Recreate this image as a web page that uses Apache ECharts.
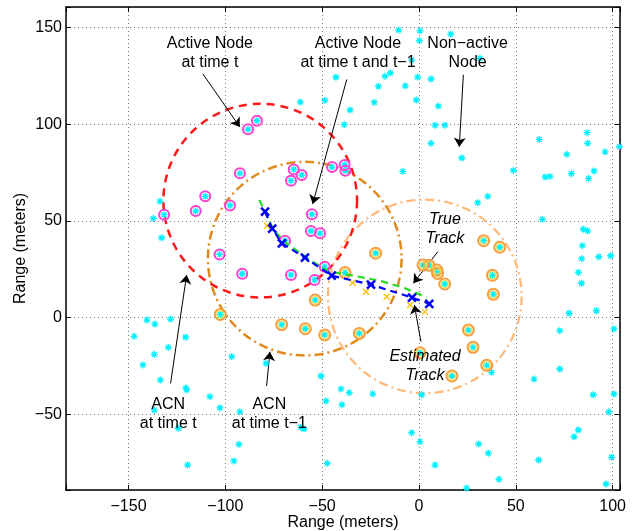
<!DOCTYPE html>
<html>
<head>
<meta charset="utf-8">
<script src="https://cdn.jsdelivr.net/npm/echarts@6/dist/echarts.min.js"></script>
<style>
  html, body { margin: 0; padding: 0; background: #fff; }
  #main { width: 642px; height: 531px; }
</style>
</head>
<body>
<div id="main"></div>
<script>
// tick labels
var xTicks = [-150, -100, -50, 0, 50, 100];
var yTicks = [-50, 0, 50, 100, 150];

// non-active nodes (cyan asterisks only)
var otherNodes = [
    [-61.3, 111.4], [-133.8, 60.1], [-137.2, 51.3], [-132.9, 41.3],
    [-10.5, 148.6], [0.5, 148.2], [0.2, 143.1], [16.4, 146.5], [31.5, 134], [-3.8, 133.1],
    [-42.9, 124.2], [-17.6, 124.7], [-14.8, 126.4], [-0.7, 124.3], [6.2, 123.3], [-21, 119.5],
    [-7.1, 119.8], [-48.6, 112.3], [-23.1, 111.2], [-1.4, 112.4], [-35.6, 107.3], [10, 109.3],
    [-38.6, 99.7], [8.3, 99.4], [13.4, 99.4], [6.2, 90.1], [22.1, 82.5], [-8.4, 75.6], [48.7, 76.1],
    [62.1, 92.1], [86.8, 95.6], [87.1, 90.1], [76.3, 84.4], [96.1, 85.7], [103.5, 88.3],
    [65.2, 72.7], [67.7, 73], [78.7, 74.4], [90.4, 75.8], [87.6, 72], [30.3, 59.4], [35.5, 62.7],
    [63.7, 50.8], [84.9, 45.7], [87.1, 44.9], [84.4, 37.2], [84, 30.5], [92.8, 31.5], [99, 32],
    [82.3, 23.4], [83.9, 17.8], [77.5, 2.3], [91.6, 3.6], [72.7, -6.7], [100.7, -5.8],
    [72.7, -26.5], [59.4, -31.7], [90, -39.8], [100.7, -39.4], [98, -48.6], [37.5, -28.2],
    [1.4, -39.8], [-40.3, -36.8], [-36, -38.7], [-23.9, -39.3], [-48, -43], [-39.8, -44.9],
    [-50.6, -30.1], [-3.8, -59.4], [0.5, -64], [30.8, -65.2], [35.8, -70], [8.3, -76.1],
    [41.3, -83.5], [24.6, -88], [-47.4, -75.2], [61.8, -73.5], [82.3, -58], [80.1, -61.5],
    [99.5, -72.1], [96.6, -85.9],
    [-140.5, -1.2], [-136.4, -3.3], [-128.3, -0.7], [-147.1, -9.6], [-120.5, -10.1],
    [-129.5, -15.3], [-136.7, -18.9], [-142.6, -24.4], [-133.6, -32.2], [-120.4, -36.2],
    [-120, -37.3], [-108, -40.8], [-102.8, -46.6], [-136.7, -47.7], [-124.3, -57.1],
    [-119.5, -76.1], [-96.7, -20.1], [-92.5, -48.6], [-93, -65.4], [-95.6, -74], [-79, -23.6],
    [-61, -56.6], [-59.4, -57.5]
];

// active nodes at time t (magenta rings)
var activeT = [
    [-88.3, 97.3], [-83.7, 101.8], [-92.5, 74.6], [-64.7, 76.6], [-60.6, 73.7], [-66.1, 70.8],
    [-44.9, 77.8], [-38.4, 78.9], [-38, 75.9], [-110.4, 62.7], [-115.3, 55.1], [-97.6, 58],
    [-131.6, 53.2], [-55.3, 53.4], [-55.8, 44.8], [-51.1, 43.6], [-69.2, 39.8], [-103, 32.7],
    [-91.3, 22.7], [-66.1, 22.1], [-48.7, 26.3], [-53.9, 19.5]
];

// other active nodes (orange rings)
var activeT1 = [
    [-22.4, 33.3], [-38.2, 23.3], [-53.6, 9.1], [-102.6, 1.7], [-70.9, -3.6], [-58.7, -5.7],
    [-48.7, -8.9], [-30.8, -8.1], [2.1, 27.2], [5.2, 27.1], [9.2, 24.6], [9.6, 22.9],
    [13.3, 17.4], [33.4, 39.8], [41.7, 36.4], [37.9, 21.9], [38.4, 12.1], [25.5, -6.4],
    [27.9, -15.3], [35, -24.6], [17, -30.1], [0.5, -18.1]
];

// ACN circles: [centerX, centerY, radius]
var acnT = [[-82, 60.5, 50]];
var acnT1 = [[-59, 30.5, 50]];
var acnT2 = [[3, 11, 50]];

// tracks
var trueTrack = [
    [-82.5, 60.8], [-79, 53.9], [-75.2, 45.3], [-68.3, 38.4], [-56.3, 29.8], [-47, 24],
    [-35.6, 22], [-20.1, 19.1], [-7.2, 15.2], [4, 10.5]
];
var estTrack = [
    [-79.5, 54.8], [-75.8, 46], [-70.8, 38.4], [-58.9, 31], [-45.1, 21.7], [-24.8, 17.1],
    [-3.6, 10.4], [5.3, 7.2]
];
var measured = [[-78.5, 47.5], [-34.3, 18.1], [-27.4, 13.4], [-16.7, 10.8], [-4.6, 6.6], [3, 3]];

// annotations
var notes = [
    ['Active Node\nat time t', -108, 136.7, 'normal'],
    ['Active Node\nat time t and t\u22121', -31.5, 136.7, 'normal'],
    ['Non\u2212active\nNode', 25.1, 136.9, 'normal'],
    ['True\nTrack', 13.4, 45.8, 'italic'],
    ['Estimated\nTrack', 3.1, -24.9, 'italic'],
    ['ACN\nat time t', -129.5, -49.7, 'normal'],
    ['ACN\nat time t\u22121', -77.3, -49.7, 'normal']
];
var arrows = [
    [[-111.6, 125.9], [-92.5, 98.5]],
    [[-37.3, 123.1], [-54.9, 58.7]],
    [[22.9, 125.5], [20.8, 88.3]],
    [[9.7, 34.1], [-2.9, 17.8]],
    [[1.0, -12.4], [-2.4, 6.6]],
    [[-128.3, -33.9], [-120, 22.1]],
    [[-78.7, -35.3], [-77, -17.6]]
];

var FONT = 'Liberation Sans, Arial, Helvetica, sans-serif';
var star = 'path://M5,0L5,10M0,5L10,5M1.5,1.5L8.5,8.5M1.5,8.5L8.5,1.5';
var cross = 'path://M0,0L10,10M0,10L10,0';

var fmtTick = function (list) {
    return function (v) {
        return list.indexOf(v) >= 0 ? String(v).replace('-', '\u2212') : '';
    };
};

var circleSeries = function (data, color, width, dash) {
    return {
        type: 'custom',
        coordinateSystem: 'cartesian2d',
        data: data,
        encode: { x: 0, y: 1 },
        silent: true,
        renderItem: function (params, api) {
            var c = api.coord([api.value(0), api.value(1)]);
            var r = api.size([api.value(2), 0])[0];
            return {
                type: 'circle',
                shape: { cx: c[0], cy: c[1], r: r },
                style: { fill: null, stroke: color, lineWidth: width, lineDash: dash }
            };
        }
    };
};

var nodeStar = function (data) {
    return {
        type: 'scatter', data: data, symbol: star, symbolSize: 7,
        itemStyle: { color: '#00ffff', borderColor: '#00f0ff', borderWidth: 1.3, opacity: 1 }
    };
};

var ring = function (data, color, size, width) {
    return {
        type: 'scatter', data: data, symbol: 'circle', symbolSize: size,
        itemStyle: { color: 'rgba(0,0,0,0)', borderColor: color, borderWidth: width, opacity: 1 }
    };
};

var axisBase = {
    axisLine: { show: true, onZero: false, lineStyle: { color: '#000', width: 1.5 } },
    axisTick: { show: true, inside: true, length: 5, lineStyle: { color: '#000', width: 1 } },
    minInterval: 50,
    maxInterval: 50
};

var option = {
    animation: false,
    backgroundColor: '#fff',
    textStyle: { fontFamily: FONT },
    grid: { left: 66, right: 22, top: 7, bottom: 41, containLabel: false, outerBoundsMode: 'none' },
    xAxis: [
        Object.assign({}, axisBase, {
            type: 'value', min: -182.3, max: 103.8, position: 'bottom',
            name: 'Range (meters)', nameLocation: 'middle', nameGap: 25, nameMoveOverlap: false,
            nameTextStyle: { fontSize: 16, color: '#000', fontFamily: FONT },
            axisLabel: { fontSize: 16, color: '#000', margin: 9, fontFamily: FONT, formatter: fmtTick(xTicks) },
            splitLine: { show: true, lineStyle: { color: '#777', type: [1, 3], width: 1 } }
        }),
        Object.assign({}, axisBase, {
            type: 'value', min: -182.3, max: 103.8, position: 'top',
            axisLabel: { show: false }, splitLine: { show: false }
        })
    ],
    yAxis: [
        Object.assign({}, axisBase, {
            type: 'value', min: -89, max: 160.5, position: 'left',
            name: 'Range (meters)', nameLocation: 'middle', nameGap: 37, nameMoveOverlap: false,
            nameTextStyle: { fontSize: 16, color: '#000', fontFamily: FONT },
            axisLabel: { fontSize: 16, color: '#000', margin: 4, fontFamily: FONT, formatter: fmtTick(yTicks) },
            splitLine: { show: true, lineStyle: { color: '#777', type: [1, 3], width: 1 } }
        }),
        Object.assign({}, axisBase, {
            type: 'value', min: -89, max: 160.5, position: 'right',
            axisLabel: { show: false }, splitLine: { show: false }
        })
    ],
    series: [
        nodeStar(otherNodes),
        nodeStar(activeT),
        nodeStar(activeT1),
        ring(activeT, '#ff40d0', 10, 2),
        ring(activeT1, '#f5a040', 11, 2),
        ring(activeT1, '#ffd84a', 7.5, 1),
        circleSeries(acnT2, '#ffb878', 2.2, [9, 4, 2, 4]),
        circleSeries(acnT1, '#e08a1e', 2.5, [9, 4, 2, 4]),
        circleSeries(acnT, '#ff1a1a', 2.5, [8, 6]),
        {
            type: 'line', data: trueTrack, symbol: 'none',
            lineStyle: { color: '#22dd22', width: 2.2, type: [7, 5] }
        },
        {
            type: 'line', data: estTrack, symbol: cross, symbolSize: 8,
            itemStyle: { color: '#0000ff', borderColor: '#0000ff', borderWidth: 2.5, opacity: 1 },
            lineStyle: { color: '#0000ff', width: 2.2, type: [7, 5] }
        },
        {
            type: 'scatter', data: measured, symbol: cross, symbolSize: 6,
            itemStyle: { color: '#ffbf00', borderColor: '#ffbf00', borderWidth: 1.3, opacity: 1 }
        },
        {
            type: 'lines', coordinateSystem: 'cartesian2d', silent: true,
            symbol: ['none', 'arrow'], symbolSize: [0, 9],
            lineStyle: { color: '#000', width: 1, opacity: 1 },
            data: arrows.map(function (a) { return { coords: a }; })
        },
        {
            type: 'scatter', symbolSize: 1, silent: true,
            itemStyle: { color: 'rgba(0,0,0,0)', opacity: 1 },
            data: notes.map(function (n) {
                return {
                    value: [n[1], n[2]],
                    label: {
                        show: true, position: 'inside', formatter: n[0],
                        fontSize: 16, lineHeight: 19, color: '#000',
                        fontFamily: FONT, fontStyle: n[3], align: 'center'
                    }
                };
            })
        }
    ]
};

var myChart = echarts.init(document.getElementById('main'));
myChart.setOption(option);
</script>
</body>
</html>
